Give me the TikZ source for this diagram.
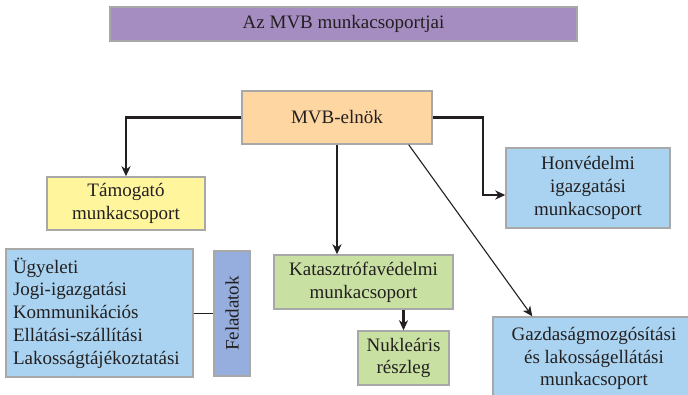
\documentclass[tikz,border=0pt]{standalone}
\usepackage{fontspec}
\setmainfont{Liberation Serif}
\usetikzlibrary{arrows.meta}
\definecolor{ink}{HTML}{231F20}
\definecolor{boxline}{HTML}{A8A8A8}
\definecolor{titlefill}{HTML}{A68DC1}
\definecolor{chieffill}{HTML}{FDD6A2}
\definecolor{supportfill}{HTML}{FFF59D}
\definecolor{bluefill}{HTML}{A9D3F0}
\definecolor{greenfill}{HTML}{C8E0A2}
\definecolor{taskfill}{HTML}{95AEDD}
\begin{document}
\begin{tikzpicture}[x=1pt,y=-1pt,
  box/.style={draw=boxline, line width=1.4pt, inner sep=0pt, align=center,
    text=ink, font=\fontsize{19}{22.7}\selectfont},
  link/.style={draw=ink, line width=2.2pt, -{Stealth[length=10pt,width=9pt,inset=3pt]}},
  thinlink/.style={draw=ink, line width=1.1pt, -{Stealth[length=10pt,width=9pt,inset=3pt]}},
  plainlink/.style={draw=ink, line width=1.4pt}]
\useasboundingbox (0,0) rectangle (688,394);
\clip (0,0) rectangle (688,394);

% title bar
\node[box, fill=titlefill, minimum width=467pt, minimum height=34pt] (title) at (343.5,24) {Az MVB munkacsoportjai};

% chair and groups
\node[box, fill=chieffill, minimum width=190pt, minimum height=53pt] (elnok) at (337,117.5) {MVB-elnök};
\node[box, fill=supportfill, minimum width=158pt, minimum height=53pt] (tam) at (126,203.5) {Támogató\\munkacsoport};
\node[box, fill=bluefill, minimum width=164pt, minimum height=80pt] (honv) at (588,188) {Honvédelmi\\igazgatási\\munkacsoport};
\node[box, fill=greenfill, minimum width=179pt, minimum height=54pt] (kat) at (363.5,282) {Katasztrófavédelmi\\munkacsoport};
\node[box, fill=greenfill, minimum width=91pt, minimum height=54pt] (nuk) at (403.5,358) {Nukleáris\\részleg};
\node[box, fill=bluefill, minimum width=202pt, minimum height=83pt] (gazd) at (594,358.5) {Gazdaságmozgósítási\\és lakosságellátási\\munkacsoport};

% task list
\node[box, fill=bluefill, align=left, text width=173pt, inner xsep=7pt, minimum height=128pt] (list) at (99.5,313)
  {Ügyeleti\\Jogi-igazgatási\\Kommunikációs\\Ellátási-szállítási\\Lakosságtájékoztatási};
\node[box, fill=taskfill, rotate=90, minimum width=125pt, minimum height=36pt] (feladat) at (232,313.5) {Feladatok};

% connectors
\draw[link] (elnok.west) -| (tam.north);
\draw[link] ([yshift=0pt]elnok.east) -| (483,195) -- (honv.west |- 0,195);
\draw[link] (elnok.south) -- (elnok.south |- kat.north);
\draw[link] (nuk.north |- kat.south) -- (nuk.north);
\draw[thinlink] ([xshift=-24pt]elnok.south east) -- ([xshift=40pt]gazd.north west);
\draw[plainlink] (list.east |- feladat.center) -- (feladat.north);
\end{tikzpicture}
\end{document}
